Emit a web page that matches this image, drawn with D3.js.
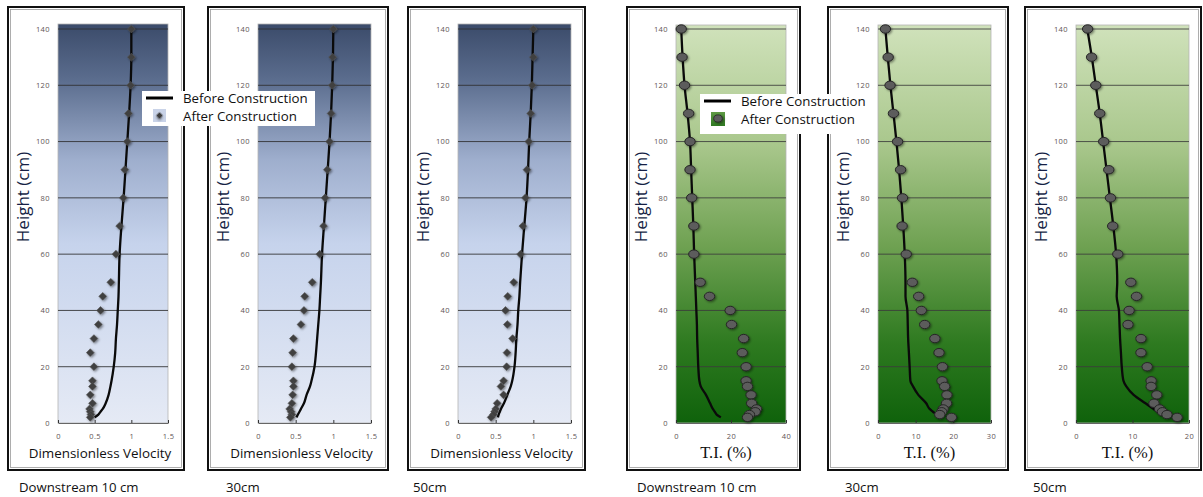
<!DOCTYPE html>
<html>
<head>
<meta charset="utf-8">
<script src="https://cdn.jsdelivr.net/npm/d3@7"></script>
<style>
  html, body { margin: 0; padding: 0; background: #ffffff; }
  svg { display: block; font-family: "Open Sans", "Noto Sans", sans-serif; }
</style>
</head>
<body>
<svg id="chart" width="1203" height="497"></svg>
<script>
// Measurement heights (cm)
const heights = [140, 130, 120, 110, 100, 90, 80, 70, 60, 50, 45, 40, 35, 30, 25, 20, 15, 13, 10, 7, 5, 4, 3, 2];

// Dimensionless velocity — before construction (profile line)
const velBefore10 = [1.00, 1.00, 0.99, 0.97, 0.945, 0.92, 0.895, 0.865, 0.84, 0.83, 0.825, 0.815, 0.805, 0.79, 0.78, 0.76, 0.73, 0.715, 0.69, 0.65, 0.61, 0.58, 0.55, 0.50];
const velBefore30 = [1.00, 0.995, 0.985, 0.97, 0.95, 0.925, 0.90, 0.875, 0.85, 0.835, 0.825, 0.815, 0.80, 0.785, 0.77, 0.75, 0.71, 0.69, 0.645, 0.61, 0.57, 0.55, 0.53, 0.51];
const velBefore50 = [1.00, 0.99, 0.98, 0.965, 0.945, 0.93, 0.91, 0.88, 0.85, 0.825, 0.815, 0.80, 0.79, 0.775, 0.765, 0.75, 0.72, 0.70, 0.655, 0.61, 0.57, 0.555, 0.54, 0.53];
// Dimensionless velocity — after construction (measured points)
const velAfter10 = [1.00, 1.00, 0.99, 0.96, 0.945, 0.91, 0.89, 0.84, 0.79, 0.72, 0.61, 0.58, 0.55, 0.49, 0.44, 0.49, 0.47, 0.47, 0.44, 0.47, 0.43, 0.44, 0.45, 0.44];
const velAfter30 = [1.00, 0.99, 0.985, 0.97, 0.95, 0.92, 0.89, 0.87, 0.82, 0.72, 0.62, 0.61, 0.57, 0.47, 0.46, 0.45, 0.47, 0.47, 0.46, 0.45, 0.42, 0.44, 0.45, 0.43];
const velAfter50 = [1.00, 1.00, 0.985, 0.965, 0.94, 0.915, 0.895, 0.86, 0.83, 0.74, 0.66, 0.63, 0.655, 0.725, 0.65, 0.645, 0.605, 0.57, 0.605, 0.52, 0.50, 0.485, 0.47, 0.44];

// Turbulence intensity (%) — before construction (profile line)
const tiBefore10 = [1.9, 2.4, 3.1, 4.2, 5.1, 5.5, 5.9, 6.3, 6.6, 7.0, 7.2, 7.4, 7.6, 7.7, 7.9, 8.1, 8.5, 9.0, 10.9, 12.4, 13.4, 14.1, 14.8, 16.3];
const tiBefore30 = [1.96, 2.6, 3.3, 4.1, 4.9, 5.6, 6.2, 6.7, 7.1, 7.3, 7.3, 7.8, 7.9, 8.0, 8.2, 8.4, 8.6, 9.3, 10.7, 12.8, 13.7, 14.6, 15.5, 16.3];
const tiBefore50 = [2.0, 2.8, 3.5, 4.2, 4.8, 5.4, 6.0, 6.6, 7.1, 7.3, 7.2, 7.6, 7.7, 7.8, 7.95, 8.1, 8.4, 8.9, 10.2, 12.3, 13.7, 14.4, 15.2, 16.0];
// Turbulence intensity (%) — after construction (measured points)
const tiAfter10 = [1.9, 2.2, 3.1, 4.6, 5.1, 5.1, 5.7, 6.5, 6.5, 8.8, 12.2, 19.7, 20.2, 24.6, 24.1, 25.5, 25.5, 26.0, 27.3, 27.5, 29.3, 28.8, 26.7, 26.0];
const tiAfter30 = [1.96, 2.7, 3.2, 4.1, 5.2, 6.0, 6.5, 6.4, 7.5, 9.1, 10.8, 11.5, 12.4, 15.1, 16.2, 17.1, 17.0, 17.7, 18.3, 18.2, 17.3, 16.9, 16.4, 19.5];
const tiAfter50 = [2.06, 2.76, 3.5, 4.2, 4.9, 5.8, 6.1, 6.5, 7.4, 9.7, 10.7, 9.4, 9.2, 11.5, 11.5, 12.6, 13.3, 13.3, 14.3, 13.8, 14.8, 15.3, 16.1, 17.9];

// Axis ticks and labels
const heightTicks = [0, 20, 40, 60, 80, 100, 120, 140];
const velTicks = [0, 0.5, 1, 1.5];
const ti10Ticks = [0, 20, 40];
const ti30Ticks = [0, 10, 20, 30];
const ti50Ticks = [0, 10, 20];
const yTitle = "Height (cm)";
const velTitle = "Dimensionless Velocity";
const tiTitle = "T.I. (%)";
const captions = ["Downstream 10 cm", "30cm", "50cm", "Downstream 10 cm", "30cm", "50cm"];
const legendNames = ["Before Construction", "After Construction"];

// Panel layout
const panels = [
  { kind: "vel", frame: [8, 7, 184, 470],   plot: [58, 24, 168, 423],   domain: [0, 1.5], ticks: velTicks,  before: velBefore10, after: velAfter10, cap: captions[0], capX: 19 },
  { kind: "vel", frame: [208, 7, 388, 470], plot: [258, 24, 371, 423],  domain: [0, 1.5], ticks: velTicks,  before: velBefore30, after: velAfter30, cap: captions[1], capX: 226 },
  { kind: "vel", frame: [408, 7, 585, 470], plot: [458, 24, 571, 423],  domain: [0, 1.5], ticks: velTicks,  before: velBefore50, after: velAfter50, cap: captions[2], capX: 413 },
  { kind: "ti",  frame: [627, 7, 800, 470], plot: [676, 25, 786, 423],  domain: [0, 40],  ticks: ti10Ticks, before: tiBefore10,  after: tiAfter10,  cap: captions[3], capX: 637 },
  { kind: "ti",  frame: [828, 7, 1008, 470], plot: [878, 25, 991, 423], domain: [0, 30],  ticks: ti30Ticks, before: tiBefore30,  after: tiAfter30,  cap: captions[4], capX: 845 },
  { kind: "ti",  frame: [1025, 7, 1201, 470], plot: [1076, 25, 1189, 423], domain: [0, 20], ticks: ti50Ticks, before: tiBefore50, after: tiAfter50, cap: captions[5], capX: 1033 }
];

const svg = d3.select("#chart");
const defs = svg.append("defs");

// Background fills
const gVel = defs.append("linearGradient").attr("id", "velFill").attr("x1", 0).attr("y1", 0).attr("x2", 0).attr("y2", 1);
[[0, "#3b4b6a"], [0.14, "#5b6d8e"], [0.34, "#9eaecd"], [0.55, "#c6d3ec"], [1, "#e5eaf5"]]
  .forEach(([o, c]) => gVel.append("stop").attr("offset", o).attr("stop-color", c));
const gTi = defs.append("linearGradient").attr("id", "tiFill").attr("x1", 0).attr("y1", 0).attr("x2", 0).attr("y2", 1);
[[0, "#d0e2bb"], [0.3, "#a9c78c"], [0.55, "#70a253"], [0.8, "#2e7a20"], [1, "#0f620b"]]
  .forEach(([o, c]) => gTi.append("stop").attr("offset", o).attr("stop-color", c));
const lgGreen = defs.append("linearGradient").attr("id", "legGreen").attr("x1", 0).attr("y1", 0).attr("x2", 0).attr("y2", 1);
[[0, "#5f9a45"], [1, "#2f7a22"]].forEach(([o, c]) => lgGreen.append("stop").attr("offset", o).attr("stop-color", c));

// Soft marker shadow
const sh = defs.append("filter").attr("id", "mshadow").attr("x", "-60%").attr("y", "-60%").attr("width", "220%").attr("height", "220%");
sh.append("feDropShadow").attr("dx", 1.2).attr("dy", 1.2).attr("stdDeviation", 0.9)
  .attr("flood-color", "#000").attr("flood-opacity", 0.45);

// Square turned 45° — a broad diamond marker
const diamond = d3.symbol().type(d3.symbolSquare).size(30);

panels.forEach(p => {
  const [fx0, fy0, fx1, fy1] = p.frame;
  const [px0, py0, px1, py1] = p.plot;
  const g = svg.append("g");

  // Frame
  g.append("rect").attr("x", fx0).attr("y", fy0).attr("width", fx1 - fx0).attr("height", fy1 - fy0)
    .attr("fill", "#fff").attr("stroke", "#111").attr("stroke-width", 2);
  g.append("rect").attr("x", fx0 + 2.5).attr("y", fy0 + 2.5).attr("width", fx1 - fx0 - 5).attr("height", fy1 - fy0 - 5)
    .attr("fill", "none").attr("stroke", "#9a9a9a").attr("stroke-width", 0.8);

  const x = d3.scaleLinear().domain(p.domain).range([px0, px1]);
  const y = d3.scaleLinear().domain([0, 140]).range([423, 29]);

  // Plot background
  g.append("rect").attr("x", px0).attr("y", py0).attr("width", px1 - px0).attr("height", py1 - py0)
    .attr("fill", p.kind === "vel" ? "url(#velFill)" : "url(#tiFill)")
    .attr("stroke", "#b5b5b5").attr("stroke-width", 0.8);

  // Horizontal gridlines
  g.append("g").selectAll("line").data(heightTicks.filter(t => t > 0)).join("line")
    .attr("x1", px0).attr("x2", px1).attr("y1", d => y(d)).attr("y2", d => y(d))
    .attr("stroke", p.kind === "vel" ? "#2e2e2e" : "#3b3b3b").attr("stroke-width", 1).attr("opacity", 0.85);

  // Y axis (labels only)
  const yAxis = d3.axisLeft(y).tickValues(heightTicks).tickSize(0).tickPadding(8);
  const ya = g.append("g").attr("transform", `translate(${px0},0)`).call(yAxis);
  ya.select(".domain").remove();
  ya.selectAll("text").attr("font-size", 7.5).attr("fill", "#5e5454").attr("letter-spacing", 0.4)
    .attr("font-family", "Open Sans, sans-serif");

  // X axis: baseline, inner ticks, labels
  const xAxis = d3.axisBottom(x).tickValues(p.ticks).tickSizeInner(-3).tickSizeOuter(0).tickPadding(11)
    .tickFormat(d => String(d));
  const xa = g.append("g").attr("transform", `translate(0,${py1})`).call(xAxis);
  xa.select(".domain").attr("stroke", "#666").attr("stroke-width", 1);
  xa.selectAll(".tick line").attr("stroke", "#333");
  xa.selectAll("text").attr("font-size", 7.5).attr("fill", "#5e5454").attr("letter-spacing", 0.4)
    .attr("font-family", "Open Sans, sans-serif");

  // Before-construction profile
  const pts = heights.map((h, i) => ({ h, v: p.before[i] }));
  g.append("path").datum(pts)
    .attr("d", d3.line().x(d => x(d.v)).y(d => y(d.h)).curve(d3.curveMonotoneY))
    .attr("fill", "none").attr("stroke", "#0a0a0a").attr("stroke-width", 2.3).attr("stroke-linejoin", "round");

  // After-construction measurements
  const after = heights.map((h, i) => ({ h, v: p.after[i] }));
  const mk = g.append("g").attr("filter", "url(#mshadow)");
  if (p.kind === "vel") {
    mk.selectAll("path").data(after).join("path")
      .attr("d", diamond)
      .attr("transform", d => `translate(${x(d.v)},${y(d.h)}) rotate(45)`)
      .attr("fill", "#3f3f3f").attr("stroke", "#555").attr("stroke-width", 0.6);
  } else {
    mk.selectAll("ellipse").data(after).join("ellipse")
      .attr("cx", d => x(d.v)).attr("cy", d => y(d.h)).attr("rx", 5.2).attr("ry", 4.2)
      .attr("fill", "#5b5b5b").attr("stroke", "#262626").attr("stroke-width", 1);
  }

  // Axis titles
  g.append("text").attr("transform", `translate(${px0 - 29},197) rotate(-90)`)
    .attr("text-anchor", "middle").attr("font-size", 17).attr("fill", "#161f45")
    .text(yTitle);
  if (p.kind === "vel") {
    g.append("text").attr("x", (px0 + px1) / 2 - 13).attr("y", 458).attr("text-anchor", "middle")
      .attr("font-size", 13.4).attr("fill", "#111").text(velTitle);
  } else {
    g.append("text").attr("x", (px0 + px1) / 2 - 5).attr("y", 458).attr("text-anchor", "middle")
      .attr("font-family", "Liberation Serif, serif").attr("font-size", 16.5).attr("fill", "#111").text(tiTitle);
  }

  // Caption below frame
  svg.append("text").attr("x", p.capX).attr("y", 492).attr("font-size", 13.2).attr("fill", "#111").text(p.cap);
});

// Legends
function legend(x0, y0, w, h, kind) {
  const lg = svg.append("g");
  lg.append("rect").attr("x", x0).attr("y", y0).attr("width", w).attr("height", h).attr("fill", "#fff");
  lg.append("line").attr("x1", x0 + 4).attr("x2", x0 + 31).attr("y1", y0 + 7).attr("y2", y0 + 7)
    .attr("stroke", "#000").attr("stroke-width", 3);
  lg.append("text").attr("x", x0 + 41).attr("y", y0 + 12).attr("font-size", 13.3).attr("fill", "#111").text(legendNames[0]);
  lg.append("text").attr("x", x0 + 41).attr("y", y0 + 29.5).attr("font-size", 13.3).attr("fill", "#111").text(legendNames[1]);
  if (kind === "vel") {
    lg.append("rect").attr("x", x0 + 11).attr("y", y0 + 18).attr("width", 13).attr("height", 13).attr("fill", "#c9d3e8");
    lg.append("path").attr("d", d3.symbol().type(d3.symbolSquare).size(22)).attr("transform", `translate(${x0 + 17.5},${y0 + 24.5}) rotate(45)`)
      .attr("fill", "#3d3d3d").attr("filter", "url(#mshadow)");
  } else {
    lg.append("rect").attr("x", x0 + 11).attr("y", y0 + 18).attr("width", 14).attr("height", 14).attr("fill", "url(#legGreen)");
    lg.append("ellipse").attr("cx", x0 + 18).attr("cy", y0 + 24.5).attr("rx", 4.3).attr("ry", 3.6)
      .attr("fill", "#5b5b5b").attr("stroke", "#262626").attr("stroke-width", 0.8).attr("filter", "url(#mshadow)");
  }
}
legend(142, 91, 173, 35, "vel");
legend(700, 94, 170, 40, "ti");
</script>
</body>
</html>
